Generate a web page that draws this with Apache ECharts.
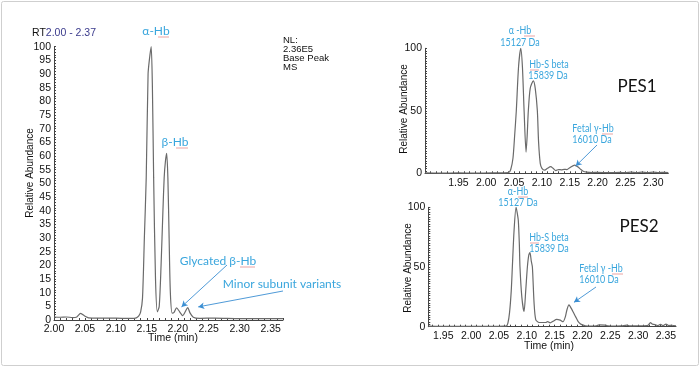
<!DOCTYPE html>
<html><head><meta charset="utf-8">
<script src="https://cdn.jsdelivr.net/npm/echarts@6/dist/echarts.min.js"></script>
<style>html,body{margin:0;padding:0;background:#fff}#c{width:700px;height:367px}</style>
</head><body><div id="c"></div>
<script>
// ---------- data ----------
const leftTime  = [2.000,2.010,2.020,2.030,2.036,2.043,2.050,2.056,2.070,2.090,2.110,2.125,2.133,2.137,2.140,2.143,2.146,2.149,2.152,2.154,2.157,2.159,2.161,2.164,2.167,2.170,2.173,2.176,2.178,2.180,2.182,2.184,2.186,2.188,2.191,2.194,2.198,2.203,2.208,2.212,2.216,2.220,2.225,2.235,2.260,2.300,2.330,2.370];
const leftAbund = [1.1,1.0,1.1,0.9,1.0,2.4,1.4,0.8,0.7,0.7,0.6,0.6,0.8,1.5,3,8,30,52,90,95,100,85,52,15,3,5,20,40,52,58,61,52,30,10,2.5,2.8,4.4,3.0,1.6,3.0,4.5,2.5,1.0,0.6,0.7,0.5,0.5,0.5];

const pes1Time  = [1.890,1.920,1.950,1.980,2.010,2.030,2.040,2.044,2.048,2.051,2.054,2.058,2.062,2.065,2.068,2.0715,2.0735,2.0756,2.079,2.0846,2.088,2.0918,2.094,2.097,2.100,2.105,2.110,2.1158,2.120,2.125,2.130,2.135,2.140,2.145,2.150,2.159,2.165,2.170,2.175,2.180,2.190,2.200,2.220,2.240,2.250,2.260,2.270,2.280,2.290,2.300,2.310,2.320,2.327];
const pes1Abund = [0.3,0.2,0.3,0.2,0.3,0.4,0.5,3,12,30,50,85,100,85,50,17,30,50,68,74,68,50,25,8,4,2.5,4,5.3,4,2.2,3,2.8,3.2,3,4.5,6.6,5,3,1.5,1,0.6,0.8,0.5,0.7,0.5,1.0,0.5,0.9,0.6,1.0,0.6,0.8,0.5];

const pes2Time  = [1.923,1.950,1.980,2.010,2.040,2.060,2.063,2.066,2.069,2.072,2.074,2.077,2.0806,2.0825,2.0847,2.0865,2.0877,2.091,2.095,2.098,2.101,2.1035,2.1056,2.108,2.110,2.113,2.116,2.122,2.128,2.134,2.1375,2.142,2.147,2.1536,2.160,2.165,2.169,2.172,2.1757,2.179,2.183,2.188,2.192,2.196,2.200,2.205,2.215,2.225,2.230,2.240,2.245,2.260,2.270,2.280,2.285,2.300,2.310,2.318,2.322,2.326,2.330,2.335,2.340,2.345,2.350,2.355,2.360,2.368];
const pes2Abund = [0.4,0.3,0.3,0.2,0.3,0.4,0.5,3,12,30,50,80,100,96,89,70,50,25,12.6,30,50,60,62,55,50,20,6,3.5,3.5,3.5,4.2,3.2,4.5,6.2,5.5,4.2,8,14,18.2,16,12.6,8,4.5,2.5,1.5,0.8,0.6,0.8,1.5,1.4,0.8,0.6,0.7,1.3,0.7,0.8,0.8,1.2,3.4,2.0,1.8,1.0,2.0,0.9,2.2,1.0,1.2,0.8];

const leftXLabels = [2.00,2.05,2.10,2.15,2.20,2.25,2.30,2.35];
const leftYLabels = [0,5,10,15,20,25,30,35,40,45,50,55,60,65,70,75,80,85,90,95,100];
const pes1XLabels = [1.95,2.00,2.05,2.10,2.15,2.20,2.25,2.30];
const pes2XLabels = [1.95,2.00,2.05,2.10,2.15,2.20,2.25,2.30,2.35];
const rightYLabels = [0,50,100];

// ---------- helpers ----------
function steps(a,b,s){const r=[];for(let v=Math.ceil(a/s-1e-9)*s;v<=b+1e-9;v+=s)r.push(+v.toFixed(4));return r;}
function pairs(t,v){return t.map((x,i)=>[x,v[i]]);}
const AX = "'Liberation Sans Narrow','Liberation Sans',Arial,sans-serif";
const LB = "Lato,'Open Sans',sans-serif";
const BLUE = '#3aa6dd';
const LINE = '#6a6a6a';

function xAxis(grid,min,max,labels){
  return {type:'value',gridIndex:grid,min:min,max:max,splitLine:{show:false},
    axisLine:{lineStyle:{color:'#444',width:1}},
    axisTick:{inside:true,length:2,customValues:steps(min,max,0.01),lineStyle:{color:'#444'}},
    axisLabel:{customValues:labels,formatter:v=>v.toFixed(2),color:'#111',fontSize:10.5,fontFamily:AX,margin:4}};
}
function yAxis(grid,labels,tickStep){
  return {type:'value',gridIndex:grid,min:0,max:100,splitLine:{show:false},
    axisLine:{show:true,lineStyle:{color:'#444',width:1}},
    axisTick:{inside:true,length:2,customValues:steps(0,100,tickStep),lineStyle:{color:'#444'}},
    axisLabel:{customValues:labels,color:'#111',fontSize:10.5,fontFamily:AX,margin:3}};
}
function arrow(from,to){ return [{x:from[0],y:from[1]},{coord:to}]; }
const markStyle = {silent:true,symbol:['none','arrow'],symbolSize:[5,6],animation:false,
  lineStyle:{color:'#3b8fd3',width:0.9,type:'solid'},label:{show:false}};

function txt(x,y,text){
  return {type:'text',x:x,y:y,style:{text:text,fill:BLUE,font:'12px '+LB,align:'center',verticalAlign:'middle'}};
}
function rtxt(x,y,text,size){ // right panel labels (slightly condensed)
  return {type:'text',x:x,y:y,scaleX:0.85,style:{text:text,fill:BLUE,font:size+'px '+LB,align:'center',verticalAlign:'middle'}};
}
function uline(x1,x2,y){ // spell-check style underline seen in the source image
  return {type:'line',silent:true,shape:{x1:x1,y1:y,x2:x2,y2:y},style:{stroke:'#eaa3a3',lineWidth:1}};
}

const chart = echarts.init(document.getElementById('c'),null,{renderer:'canvas'});
chart.setOption({
  animation:false,
  backgroundColor:'#fff',
  grid:[
    {left:54,top:46.7,width:229,height:273.3},
    {left:425,top:48.3,width:243.3,height:125},
    {left:428.3,top:207.3,width:247.7,height:119.4}
  ],
  xAxis:[xAxis(0,2.00,2.37,leftXLabels),xAxis(1,1.89,2.327,pes1XLabels),xAxis(2,1.923,2.368,pes2XLabels)],
  yAxis:[yAxis(0,leftYLabels,1),yAxis(1,rightYLabels,2),yAxis(2,rightYLabels,2)],
  series:[
    {type:'line',xAxisIndex:0,yAxisIndex:0,data:pairs(leftTime,leftAbund),showSymbol:false,smooth:0.25,
      lineStyle:{color:LINE,width:1.2},
      markLine:Object.assign({data:[arrow([227,265],[2.206,4.8]),arrow([283,291],[2.233,4.8])]},markStyle)},
    {type:'line',xAxisIndex:1,yAxisIndex:1,data:pairs(pes1Time,pes1Abund),showSymbol:false,smooth:0.25,
      lineStyle:{color:LINE,width:1.2},
      markLine:Object.assign({data:[arrow([597,145],[2.1607,5.8])]},markStyle)},
    {type:'line',xAxisIndex:2,yAxisIndex:2,data:pairs(pes2Time,pes2Abund),showSymbol:false,smooth:0.25,
      lineStyle:{color:LINE,width:1.2},
      markLine:Object.assign({data:[arrow([596,287],[2.1847,20.4])]},markStyle)}
  ],
  graphic:[
    {type:'rect',shape:{x:1.5,y:1.5,width:697,height:364,r:2},style:{fill:'none',stroke:'#cfcfcf',lineWidth:1},silent:true},
    // left panel texts
    {type:'text',x:32,y:33,style:{rich:{a:{fill:'#111',fontSize:10.5,fontFamily:AX},b:{fill:'#3a3a8c',fontSize:10.5,fontFamily:AX}},text:'{a|RT}{b|2.00 - 2.37}',verticalAlign:'middle'}},
    {type:'text',x:283,y:36,style:{text:'NL:\n2.36E5\nBase Peak\nMS',fill:'#111',font:'9.5px '+AX,lineHeight:9,verticalAlign:'top'}},
    {type:'text',x:30,y:173,rotation:Math.PI/2,style:{text:'Relative Abundance',fill:'#111',font:'10px '+AX,align:'center',verticalAlign:'middle'}},
    {type:'text',x:173,y:338,style:{text:'Time (min)',fill:'#111',font:'10.5px '+AX,align:'center',verticalAlign:'middle'}},
    txt(156,31,'α-Hb'), uline(158,169,37),
    txt(175,142,'β-Hb'), uline(176,188,148),
    txt(218,261,'Glycated β-Hb'), uline(240,255,267),
    txt(282,284,'Minor subunit variants'),
    // PES1
    {type:'text',x:404,y:109,rotation:Math.PI/2,style:{text:'Relative Abundance',fill:'#111',font:'10px '+AX,align:'center',verticalAlign:'middle'}},
    rtxt(520,31,'α -Hb',10.5), uline(524,535,36), rtxt(520,43,'15127 Da',10.5),
    rtxt(549,65,'Hb-S beta',10.5), uline(530,539,70), rtxt(548,76,'15839 Da',10.5),
    rtxt(593,129,'Fetal γ-Hb',10.5), uline(602,613,134), rtxt(592,140,'16010 Da',10.5),
    {type:'text',x:637,y:87,style:{text:'PES1',fill:'#111',font:'17px '+LB,align:'center',verticalAlign:'middle'}},
    // PES2
    {type:'text',x:408,y:268,rotation:Math.PI/2,style:{text:'Relative Abundance',fill:'#111',font:'10px '+AX,align:'center',verticalAlign:'middle'}},
    {type:'text',x:549,y:346,style:{text:'Time (min)',fill:'#111',font:'10.5px '+AX,align:'center',verticalAlign:'middle'}},
    rtxt(518,192,'α-Hb',10.5), uline(518,528,197), rtxt(518,203,'15127 Da',10.5),
    rtxt(549,238,'Hb-S beta',10.5), uline(530,539,243), rtxt(549,249,'15839 Da',10.5),
    rtxt(601,269,'Fetal γ -Hb',10.5), uline(612,623,274), rtxt(599,280,'16010 Da',10.5),
    {type:'text',x:639,y:227,style:{text:'PES2',fill:'#111',font:'17px '+LB,align:'center',verticalAlign:'middle'}}
  ]
});
</script></body></html>
